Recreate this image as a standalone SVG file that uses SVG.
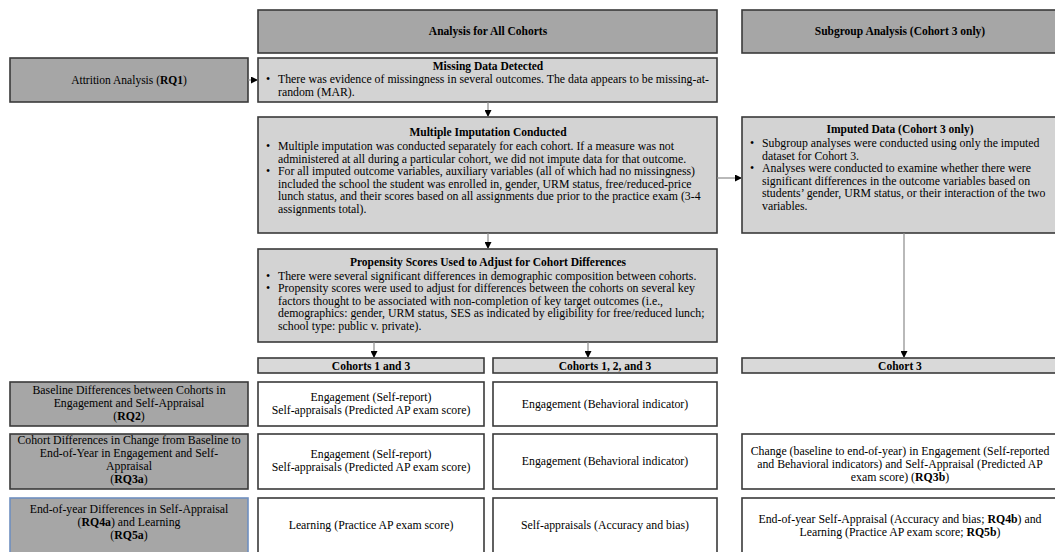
<svg xmlns="http://www.w3.org/2000/svg" width="1055" height="552" viewBox="0 0 1055 552">
<defs>
<style>
text{font-family:"Liberation Serif","Times New Roman",serif;font-size:11.8px;fill:#000}
.b{font-weight:bold}
.t{font-weight:bold;font-size:11.5px}
.c{text-anchor:middle}
.s{font-size:11.5px}
.dk{fill:#a6a6a6;stroke:#3a3a3a;stroke-width:1.6}
.lt{fill:#d3d3d3;stroke:#3a3a3a;stroke-width:1.6}
.ch{fill:#d9d9d9;stroke:#3a3a3a;stroke-width:1.6}
.wh{fill:#ffffff;stroke:#3a3a3a;stroke-width:1.6}
.bl{fill:#a6a6a6;stroke:#6f8fc0;stroke-width:1.6}
.ln{stroke:#8a8a8a;stroke-width:1.2;fill:none}
</style>
<marker id="ah" viewBox="0 0 10 10" refX="10" refY="5" markerWidth="7" markerHeight="7" markerUnits="userSpaceOnUse" orient="auto">
<path d="M0,0 L10,5 L0,10 z" fill="#000"/>
</marker>
</defs>
<rect width="1055" height="552" fill="#fff"/>

<g id="hdr-all"><rect class="dk" x="258" y="10" width="459" height="43"/><text class="t c" x="488" y="35">Analysis for All Cohorts</text></g>
<g id="hdr-sub"><rect class="dk" x="742" y="10" width="320" height="43"/><text class="t c" x="900" y="35">Subgroup Analysis (Cohort 3 only)</text></g>

<g id="attrition"><rect class="dk" x="10" y="58" width="238" height="44"/><text class="c s" x="129" y="84">Attrition Analysis (<tspan class="b">RQ1</tspan>)</text></g>

<g id="missing"><rect class="lt" x="258" y="58" width="459" height="44"/>
<text class="t c" x="488" y="70">Missing Data Detected</text>
<text x="266" y="83">•</text><text x="278" y="83">There was evidence of missingness in several outcomes. The data appears to be missing-at-</text>
<text x="278" y="96">random (MAR).</text></g>

<g id="mi"><rect class="lt" x="258" y="117" width="459" height="116"/>
<text class="t c" x="488" y="136">Multiple Imputation Conducted</text>
<text x="266" y="150">•</text><text x="278" y="150">Multiple imputation was conducted separately for each cohort. If a measure was not</text>
<text x="278" y="162.6">administered at all during a particular cohort, we did not impute data for that outcome.</text>
<text x="266" y="175.2">•</text><text x="278" y="175.2">For all imputed outcome variables, auxiliary variables (all of which had no missingness)</text>
<text x="278" y="187.8">included the school the student was enrolled in, gender, URM status, free/reduced-price</text>
<text x="278" y="200.4">lunch status, and their scores based on all assignments due prior to the practice exam (3-4</text>
<text x="278" y="213">assignments total).</text></g>

<g id="imputed"><rect class="lt" x="742" y="117" width="320" height="116"/>
<text class="t c" x="900" y="133">Imputed Data (Cohort 3 only)</text>
<text x="750" y="147">•</text><text x="762" y="147">Subgroup analyses were conducted using only the imputed</text>
<text x="762" y="159.6">dataset for Cohort 3.</text>
<text x="750" y="172.2">•</text><text x="762" y="172.2">Analyses were conducted to examine whether there were</text>
<text x="762" y="184.8">significant differences in the outcome variables based on</text>
<text x="762" y="197.4">students’ gender, URM status, or their interaction of the two</text>
<text x="762" y="210">variables.</text></g>

<g id="propensity"><rect class="lt" x="258" y="249" width="459" height="93"/>
<text class="t c" x="488" y="266">Propensity Scores Used to Adjust for Cohort Differences</text>
<text x="266" y="279.6">•</text><text x="278" y="279.6">There were several significant differences in demographic composition between cohorts.</text>
<text x="266" y="292.2">•</text><text x="278" y="292.2">Propensity scores were used to adjust for differences between the cohorts on several key</text>
<text x="278" y="304.8">factors thought to be associated with non-completion of key target outcomes (i.e.,</text>
<text x="278" y="317.4">demographics: gender, URM status, SES as indicated by eligibility for free/reduced lunch;</text>
<text x="278" y="330">school type: public v. private).</text></g>

<g id="hdr-c13"><rect class="ch" x="258" y="358" width="226" height="15"/><text class="t c" x="371" y="369.5">Cohorts 1 and 3</text></g>
<g id="hdr-c123"><rect class="ch" x="493" y="358" width="224" height="15"/><text class="t c" x="605" y="369.5">Cohorts 1, 2, and 3</text></g>
<g id="hdr-c3"><rect class="ch" x="742" y="358" width="320" height="15"/><text class="t c" x="900" y="369.5">Cohort 3</text></g>

<g id="rq2"><rect class="dk" x="10" y="382" width="238" height="44"/>
<text class="c" x="129" y="394">Baseline Differences between Cohorts in</text>
<text class="c" x="129" y="407">Engagement and Self-Appraisal</text>
<text class="c" x="129" y="420">(<tspan class="b">RQ2</tspan>)</text></g>
<g id="r1c2"><rect class="wh" x="258" y="382" width="226" height="44"/>
<text class="c" x="371" y="401">Engagement (Self-report)</text>
<text class="c" x="371" y="414">Self-appraisals (Predicted AP exam score)</text></g>
<g id="r1c3"><rect class="wh" x="493" y="382" width="224" height="44"/>
<text class="c" x="605" y="408">Engagement (Behavioral indicator)</text></g>

<g id="rq3a"><rect class="dk" x="10" y="434" width="238" height="55"/>
<text class="c" x="129" y="444">Cohort Differences in Change from Baseline to</text>
<text class="c" x="129" y="457">End-of-Year in Engagement and Self-</text>
<text class="c" x="129" y="470">Appraisal</text>
<text class="c" x="129" y="483">(<tspan class="b">RQ3a</tspan>)</text></g>
<g id="r2c2"><rect class="wh" x="258" y="434" width="226" height="55"/>
<text class="c" x="371" y="458">Engagement (Self-report)</text>
<text class="c" x="371" y="471">Self-appraisals (Predicted AP exam score)</text></g>
<g id="r2c3"><rect class="wh" x="493" y="434" width="224" height="55"/>
<text class="c" x="605" y="465">Engagement (Behavioral indicator)</text></g>
<g id="r2c4"><rect class="wh" x="742" y="434" width="320" height="55"/>
<text class="c" x="900" y="455">Change (baseline to end-of-year) in Engagement (Self-reported</text>
<text class="c" x="900" y="468">and Behavioral indicators) and Self-Appraisal (Predicted AP</text>
<text class="c" x="900" y="481">exam score) (<tspan class="b">RQ3b</tspan>)</text></g>

<g id="rq45a"><rect class="bl" x="10" y="498" width="238" height="60"/>
<text class="c" x="129" y="513">End-of-year Differences in Self-Appraisal</text>
<text class="c" x="129" y="526">(<tspan class="b">RQ4a</tspan>) and Learning</text>
<text class="c" x="129" y="539">(<tspan class="b">RQ5a</tspan>)</text></g>
<g id="r3c2"><rect class="wh" x="258" y="498" width="226" height="60"/>
<text class="c" x="371" y="529">Learning (Practice AP exam score)</text></g>
<g id="r3c3"><rect class="wh" x="493" y="498" width="224" height="60"/>
<text class="c" x="605" y="529">Self-appraisals (Accuracy and bias)</text></g>
<g id="r3c4"><rect class="wh" x="742" y="498" width="320" height="60"/>
<text class="c" x="900" y="523">End-of-year Self-Appraisal (Accuracy and bias; <tspan class="b">RQ4b</tspan>) and</text>
<text class="c" x="900" y="536">Learning (Practice AP exam score; <tspan class="b">RQ5b</tspan>)</text></g>

<g id="connectors">
<line class="ln" x1="248" y1="80" x2="258" y2="80" marker-end="url(#ah)"/>
<line class="ln" x1="488" y1="102" x2="488" y2="117" marker-end="url(#ah)"/>
<line class="ln" x1="488" y1="233" x2="488" y2="249" marker-end="url(#ah)"/>
<line class="ln" x1="717" y1="178" x2="742" y2="178" marker-end="url(#ah)"/>
<line class="ln" x1="374" y1="342" x2="374" y2="358" marker-end="url(#ah)"/>
<line class="ln" x1="588" y1="342" x2="588" y2="358" marker-end="url(#ah)"/>
<line class="ln" x1="904" y1="233" x2="904" y2="358" marker-end="url(#ah)"/>
</g>
</svg>
